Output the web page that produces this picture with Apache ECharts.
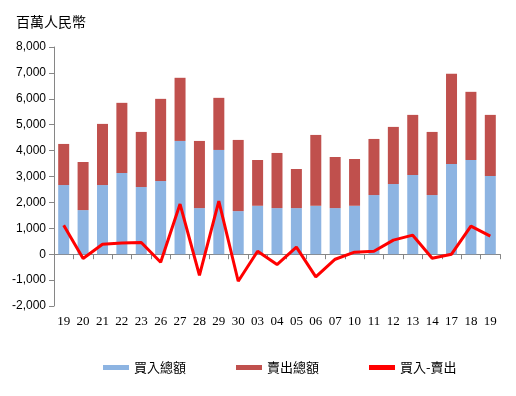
<!DOCTYPE html>
<html><head><meta charset="utf-8">
<script src="https://cdn.jsdelivr.net/npm/echarts@6/dist/echarts.min.js"></script>
<style>html,body{margin:0;padding:0;background:#fff}#c{width:516px;height:396px}</style>
</head><body><div id="c"></div>
<script>
var categories = ['19','20','21','22','23','26','27','28','29','30','03','04','05','06','07','10','11','12','13','14','17','18','19'];
var buyTotal = [2670,1703,2670,3135,2593,2825,4373,1780,4025,1664,1870,1780,1780,1870,1780,1870,2283,2709,3057,2283,3483,3638,3019];
var totalHeight = [4257,3560,5031,5844,4721,5998,6811,4373,6037,4412,3638,3909,3290,4605,3754,3676,4450,4915,5379,4721,6966,6269,5379];
var sellTotal = totalHeight.map(function(t,i){return t - buyTotal[i];});
var netBuy = [1122,-167,387,437,452,-310,1935,-813,2051,-1045,116,-400,271,-878,-194,77,116,542,735,-155,0,1084,697];
var yTicks = {min:-2000, max:8000, interval:1000};

var chart = echarts.init(document.getElementById('c'), null, {renderer:'canvas'});
var axisColor = '#868686';
chart.setOption({
  animation:false,
  title:{text:'百萬人民幣', left:11, top:10, textStyle:{fontFamily:'Noto Sans CJK TC', fontSize:14, fontWeight:'normal', color:'#000'}},
  legend:{
    bottom:17, left:98, itemGap:50, itemWidth:26, itemHeight:5,
    textStyle:{fontFamily:'Noto Sans CJK TC', fontSize:13, color:'#000'},
    data:[{name:'買入總額', icon:'rect'},{name:'賣出總額', icon:'rect'},{name:'買入-賣出', icon:'rect'}]
  },
  grid:{left:54, right:16, top:47, bottom:90},
  xAxis:[{
    type:'category', data:categories,
    axisLine:{onZero:true, lineStyle:{color:axisColor}},
    axisTick:{show:true, length:5, lineStyle:{color:axisColor}},
    axisLabel:{show:false}
  },{
    type:'category', data:categories, position:'bottom', offset:0,
    axisLine:{show:false}, axisTick:{show:false},
    axisLabel:{fontFamily:'Liberation Serif', fontSize:13, color:'#000', margin:9}
  }],
  yAxis:{
    type:'value', min:yTicks.min, max:yTicks.max, interval:yTicks.interval,
    axisLine:{show:true, lineStyle:{color:axisColor}},
    axisTick:{show:true, length:5, lineStyle:{color:axisColor}},
    splitLine:{show:false},
    axisLabel:{fontFamily:'Liberation Sans', fontSize:12, color:'#000', margin:8,
      formatter:function(v){return v.toLocaleString('en-US');}}
  },
  series:[
    {name:'買入總額', type:'bar', stack:'a', xAxisIndex:0, data:buyTotal, barWidth:11, itemStyle:{color:'#8DB4E2'}},
    {name:'賣出總額', type:'bar', stack:'a', xAxisIndex:0, data:sellTotal, barWidth:11, itemStyle:{color:'#C0504D'}},
    {name:'買入-賣出', type:'line', xAxisIndex:0, data:netBuy, symbol:'none', lineStyle:{color:'#FF0000', width:3}, itemStyle:{color:'#FF0000'}}
  ]
});
</script></body></html>
